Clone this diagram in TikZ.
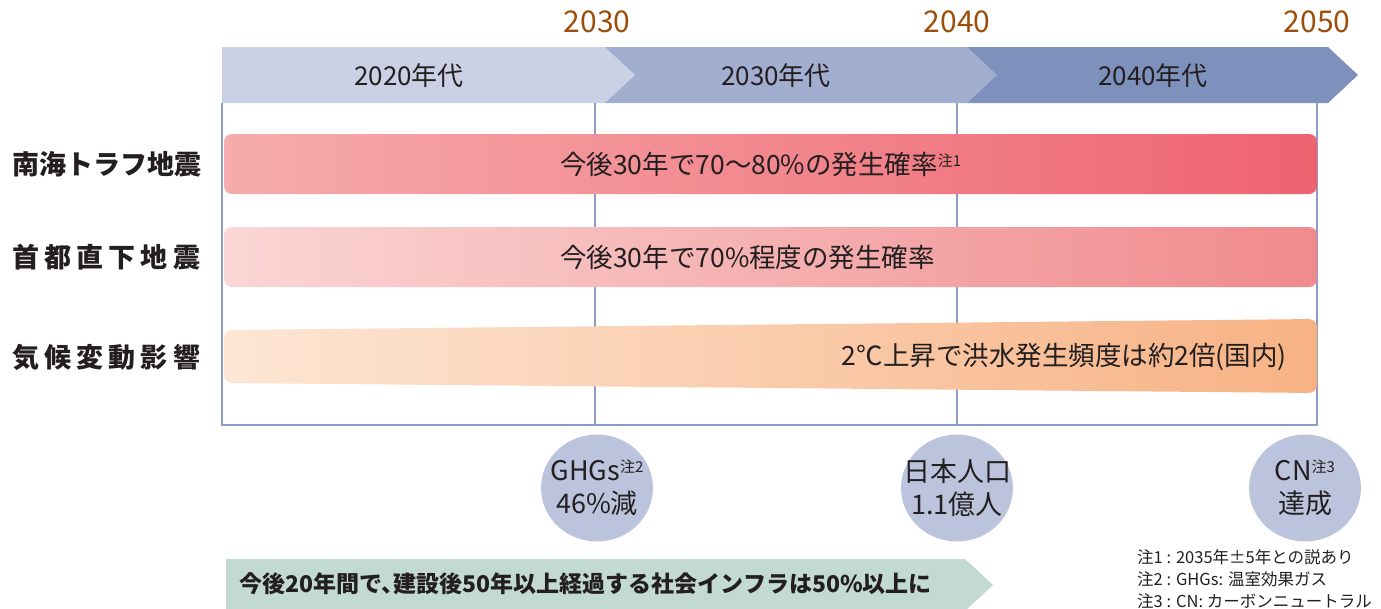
\documentclass[tikz,border=0pt]{standalone}
\usepackage{fontspec}
\setmainfont{Noto Sans CJK JP}
\usetikzlibrary{shapes.geometric}
\definecolor{txt}{HTML}{231F20}
\definecolor{yr}{HTML}{9C4F0C}
\definecolor{chA}{HTML}{CBD1E5}
\definecolor{chB}{HTML}{A2AED0}
\definecolor{chC}{HTML}{7E91BD}
\definecolor{grid}{HTML}{8C9CC8}
\definecolor{rA}{HTML}{F6ACAC}
\definecolor{rB}{HTML}{EE6370}
\definecolor{pA}{HTML}{FAD6D4}
\definecolor{pB}{HTML}{F08A8D}
\definecolor{oA}{HTML}{FDE6D4}
\definecolor{oB}{HTML}{F7B284}
\definecolor{circ}{HTML}{BCC4DD}
\definecolor{tealbg}{HTML}{C3D9D3}
\newcommand{\fsz}[1]{\fontsize{#1}{#1}\selectfont}
\newcommand{\chu}[1]{{\fsz{15}\raisebox{8pt}{注#1}}}
\tikzset{
  yrlabel/.style={text=yr,font=\fsz{30},inner sep=0},
  chlabel/.style={text=txt,font=\fsz{26},inner sep=0},
  rowlabel/.style={text=txt,font=\fsz{27}\bfseries,inner sep=0,anchor=west},
  bartext/.style={text=txt,font=\fsz{26.5},inner sep=0},
  gridline/.style={draw=grid,line width=1.2pt},
  milestone/.style={fill=circ,draw=none},
  mstext/.style={inner sep=0,text=txt,font={\fontsize{27}{33}\selectfont},align=center},
  note/.style={text=txt,font=\fsz{16.5},inner sep=0,anchor=west}
}
\begin{document}
\begin{tikzpicture}[x=1pt,y=-1pt]
\useasboundingbox (0,0) rectangle (1381,608);
\clip (0,0) rectangle (1381,608);
% chevrons
\fill[chA] (222,47) -- (605,47) -- (635,75) -- (605,103) -- (222,103) -- cycle;
\fill[chB] (605,47) -- (967,47) -- (997,75) -- (967,103) -- (605,103) -- (635,75) -- cycle;
\fill[chC] (967,47) -- (1328,47) -- (1358,75) -- (1328,103) -- (967,103) -- (997,75) -- cycle;
\node[chlabel] (c1) at (409,76) {2020年代};
\node[chlabel] (c2) at (776,76) {2030年代};
\node[chlabel] (c3) at (1153,76) {2040年代};
% years
\node[yrlabel] (y1) at (597,22) {2030};
\node[yrlabel] (y2) at (957,22) {2040};
\node[yrlabel] (y3) at (1317,22) {2050};
% grid
\draw[gridline] (222,103) -- (222,425) -- (1317,425) -- (1317,103);
\draw[gridline] (595,103) -- (595,425);
\draw[gridline] (957,103) -- (957,425);
% bars
\shade[left color=rA,right color=rB,rounded corners=8pt] (224,134) rectangle (1317,194);
\shade[left color=pA,right color=pB,rounded corners=8pt] (224,227) rectangle (1317,287);
\shade[left color=oA,right color=oB,rounded corners=8pt] (224,330) -- (1317,319) -- (1317,393) -- (224,383) -- cycle;
\node[bartext,anchor=west] (b1) at (560,164) {今後30年で70～80\%の発生確率\chu{1}};
\node[bartext,anchor=west] (b2) at (560,257) {今後30年で70\%程度の発生確率};
\node[bartext,anchor=east] (b3) at (1287,357) {2℃上昇で洪水発生頻度は約2倍(国内)};
% row labels
\node[rowlabel] (r1) at (12,164) {南海トラフ地震};
\node[rowlabel] (r2) at (12,257) {\hbox to 188pt{首\hfil 都\hfil 直\hfil 下\hfil 地\hfil 震}};
\node[rowlabel] (r3) at (12,357) {\hbox to 188pt{気\hfil 候\hfil 変\hfil 動\hfil 影\hfil 響}};
% milestones
\fill[milestone] (597,488) ellipse [x radius=56pt, y radius=53.5pt];
\fill[milestone] (957,488) ellipse [x radius=56pt, y radius=53.5pt];
\fill[milestone] (1305,488) ellipse [x radius=56pt, y radius=53.5pt];
\node[mstext] (m1) at (597,488) {GHGs\chu{2}\\46\%減};
\node[mstext] (m2) at (957,488) {日本人口\\1.1億人};
\node[mstext] (m3) at (1305,488) {CN\chu{3}\\達成};
% bottom arrow
\fill[tealbg] (226,559) -- (965,559) -- (993,585) -- (965,611) -- (226,611) -- cycle;
\node[text=txt,font=\fsz{23}\bfseries,inner sep=0,anchor=west] (ar) at (239,584)
  {今後20年間で、\kern-0.45em 建設後50年以上経過する社会インフラは50\%以上に};
% notes
\node[note] (n1) at (1137,557) {注1 : 2035年±5年との説あり};
\node[note] (n2) at (1137,579) {注2 : GHGs: 温室効果ガス};
\node[note] (n3) at (1137,601) {注3 : CN: カーボンニュートラル};
\end{tikzpicture}
\end{document}
